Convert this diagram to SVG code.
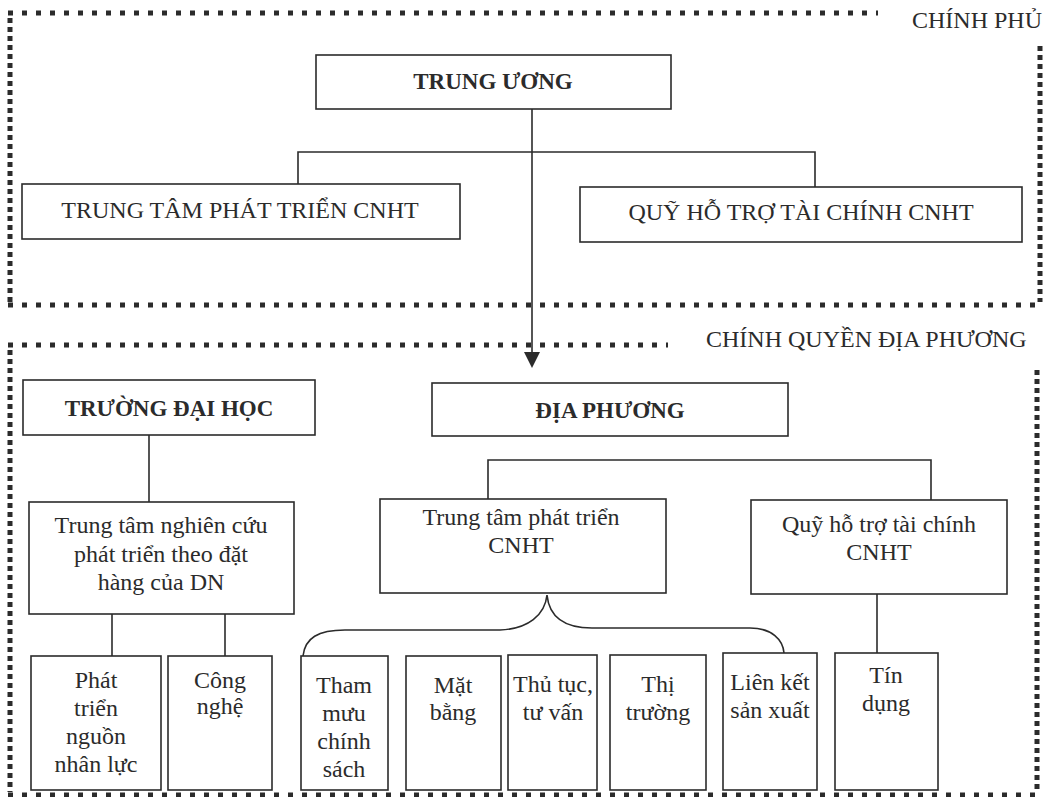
<svg xmlns="http://www.w3.org/2000/svg" width="1059" height="797" viewBox="0 0 1059 797">
  <style>
    .frame-h { stroke: #2b2b2b; stroke-width: 5; stroke-dasharray: 5 9; fill: none; }
    .frame-v { stroke: #2b2b2b; stroke-width: 5; stroke-dasharray: 5 4; fill: none; }
    .box { fill: #ffffff; stroke: #2b2b2b; stroke-width: 1.6; }
    .wire { stroke: #2b2b2b; stroke-width: 1.6; fill: none; }
    text { font-family: "Liberation Serif", "Times New Roman", serif; fill: #2b2b2b; font-size: 24px; text-anchor: middle; }
    .bold { font-weight: bold; font-size: 23px; }
    .label { text-anchor: start; }
  </style>

  <rect width="1059" height="797" fill="#ffffff"/>

  <!-- Government (central) frame -->
  <g id="frame-chinh-phu">
    <line class="frame-h" x1="8" y1="13" x2="878" y2="13"/>
    <line class="frame-v" x1="10" y1="18" x2="10" y2="302"/>
    <line class="frame-v" x1="1040" y1="46" x2="1040" y2="302"/>
    <line class="frame-h" x1="8" y1="305" x2="1043" y2="305"/>
    <text class="label" x="912" y="28">CHÍNH PHỦ</text>
  </g>

  <!-- Local government frame -->
  <g id="frame-chinh-quyen">
    <line class="frame-h" x1="8" y1="345" x2="668" y2="345"/>
    <line class="frame-v" x1="10" y1="350" x2="10" y2="792"/>
    <line class="frame-v" x1="1037" y1="370" x2="1037" y2="792"/>
    <line class="frame-h" x1="8" y1="795" x2="1043" y2="795"/>
    <text class="label" x="706" y="347">CHÍNH QUYỀN ĐỊA PHƯƠNG</text>
  </g>

  <!-- Connectors -->
  <g id="connectors">
    <line class="wire" x1="532" y1="109" x2="532" y2="356"/>
    <polygon points="524,352 540,352 532,368" fill="#2b2b2b"/>
    <polyline class="wire" points="298,184 298,152 815,152 815,187"/>
    <line class="wire" x1="149" y1="435" x2="149" y2="502"/>
    <polyline class="wire" points="488,499 488,460 931,460 931,500"/>
    <line class="wire" x1="112" y1="614" x2="112" y2="656"/>
    <line class="wire" x1="225" y1="614" x2="225" y2="656"/>
    <line class="wire" x1="877" y1="594" x2="877" y2="653"/>
    <path class="wire" d="M 303 656 C 305 638, 318 630, 345 630 L 500 630 C 528 629, 545 615, 547 595 C 549 615, 562 628, 592 628 L 750 628 C 772 628, 783 640, 784 653"/>
  </g>

  <g id="trung-uong">
    <rect class="box" x="316" y="55" width="355" height="54"/>
    <text class="bold" x="493" y="89">TRUNG ƯƠNG</text>
  </g>

  <g id="trung-tam-cnht">
    <rect class="box" x="22" y="184" width="438" height="55"/>
    <text x="240" y="218">TRUNG TÂM PHÁT TRIỂN CNHT</text>
  </g>

  <g id="quy-cnht">
    <rect class="box" x="580" y="187" width="442" height="55"/>
    <text x="801" y="220">QUỸ HỖ TRỢ TÀI CHÍNH CNHT</text>
  </g>

  <g id="truong-dai-hoc">
    <rect class="box" x="23" y="380" width="292" height="55"/>
    <text class="bold" x="169" y="416">TRƯỜNG ĐẠI HỌC</text>
  </g>

  <g id="dia-phuong">
    <rect class="box" x="432" y="383" width="356" height="53"/>
    <text class="bold" x="610" y="418">ĐỊA PHƯƠNG</text>
  </g>

  <g id="trung-tam-nghien-cuu">
    <rect class="box" x="29" y="502" width="265" height="112"/>
    <text x="161" y="533">Trung tâm nghiên cứu</text>
    <text x="161" y="562">phát triển theo đặt</text>
    <text x="161" y="590">hàng của DN</text>
  </g>

  <g id="trung-tam-dia-phuong">
    <rect class="box" x="380" y="499" width="286" height="94"/>
    <text x="521" y="525">Trung tâm phát triển</text>
    <text x="521" y="553">CNHT</text>
  </g>

  <g id="quy-dia-phuong">
    <rect class="box" x="751" y="500" width="256" height="94"/>
    <text x="879" y="532">Quỹ hỗ trợ tài chính</text>
    <text x="879" y="560">CNHT</text>
  </g>

  <g id="nhan-luc">
    <rect class="box" x="31" y="656" width="130" height="134"/>
    <text x="96" y="688">Phát</text>
    <text x="96" y="716">triển</text>
    <text x="96" y="744">nguồn</text>
    <text x="96" y="772">nhân lực</text>
  </g>

  <g id="cong-nghe">
    <rect class="box" x="168" y="656" width="104" height="134"/>
    <text x="220" y="688">Công</text>
    <text x="220" y="714">nghệ</text>
  </g>

  <g id="tham-muu">
    <rect class="box" x="301" y="656" width="87" height="134"/>
    <text x="344" y="693">Tham</text>
    <text x="344" y="721">mưu</text>
    <text x="344" y="749">chính</text>
    <text x="344" y="777">sách</text>
  </g>

  <g id="mat-bang">
    <rect class="box" x="406" y="656" width="95" height="134"/>
    <text x="453" y="693">Mặt</text>
    <text x="453" y="720">bằng</text>
  </g>

  <g id="thu-tuc">
    <rect class="box" x="508" y="655" width="89" height="135"/>
    <text x="553" y="692">Thủ tục,</text>
    <text x="553" y="720">tư vấn</text>
  </g>

  <g id="thi-truong">
    <rect class="box" x="610" y="655" width="96" height="135"/>
    <text x="658" y="692">Thị</text>
    <text x="658" y="720">trường</text>
  </g>

  <g id="lien-ket">
    <rect class="box" x="723" y="653" width="94" height="137"/>
    <text x="770" y="690">Liên kết</text>
    <text x="770" y="718">sản xuất</text>
  </g>

  <g id="tin-dung">
    <rect class="box" x="835" y="653" width="103" height="137"/>
    <text x="886" y="683">Tín</text>
    <text x="886" y="711">dụng</text>
  </g>
</svg>
